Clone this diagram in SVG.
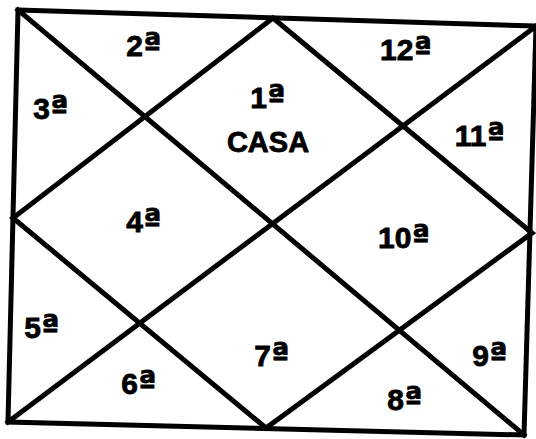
<svg xmlns="http://www.w3.org/2000/svg" width="536" height="439" viewBox="0 0 536 439">
<style>
.ln{stroke:#000;stroke-width:5;fill:none;stroke-linejoin:miter;stroke-linecap:square}
.t{font-family:"Liberation Sans",Arial,sans-serif;font-weight:bold;font-size:30px;fill:#000;stroke:#000;stroke-width:0.8;text-anchor:middle}
.o{font-family:"DejaVu Sans",sans-serif;font-size:33px}
.c{font-size:29px}
</style>
<rect width="536" height="439" fill="#fff"/>
<g id="connectors">
<polygon class="ln" points="18,10 536,26 524,435 8,422"/>
<line class="ln" x1="18" y1="10" x2="524" y2="435"/>
<line class="ln" x1="536" y1="26" x2="8" y2="422"/>
<polygon class="ln" points="273,18 532,233 266,428 13,218"/>
</g>
<g id="h1"><text class="t" x="268" y="108">1<tspan class="o">ª</tspan></text><text class="t c" x="268" y="152">CASA</text></g>
<g id="h2"><text class="t" x="144" y="56">2<tspan class="o">ª</tspan></text></g>
<g id="h3"><text class="t" x="51" y="119">3<tspan class="o">ª</tspan></text></g>
<g id="h4"><text class="t" x="144" y="232">4<tspan class="o">ª</tspan></text></g>
<g id="h5"><text class="t" x="42" y="338">5<tspan class="o">ª</tspan></text></g>
<g id="h6"><text class="t" x="139" y="394">6<tspan class="o">ª</tspan></text></g>
<g id="h7"><text class="t" x="272" y="366">7<tspan class="o">ª</tspan></text></g>
<g id="h8"><text class="t" x="405" y="410">8<tspan class="o">ª</tspan></text></g>
<g id="h9"><text class="t" x="490" y="366">9<tspan class="o">ª</tspan></text></g>
<g id="h10"><text class="t" x="404" y="248">10<tspan class="o">ª</tspan></text></g>
<g id="h11"><text class="t" x="480" y="146">11<tspan class="o">ª</tspan></text></g>
<g id="h12"><text class="t" x="406" y="60">12<tspan class="o">ª</tspan></text></g>
</svg>
